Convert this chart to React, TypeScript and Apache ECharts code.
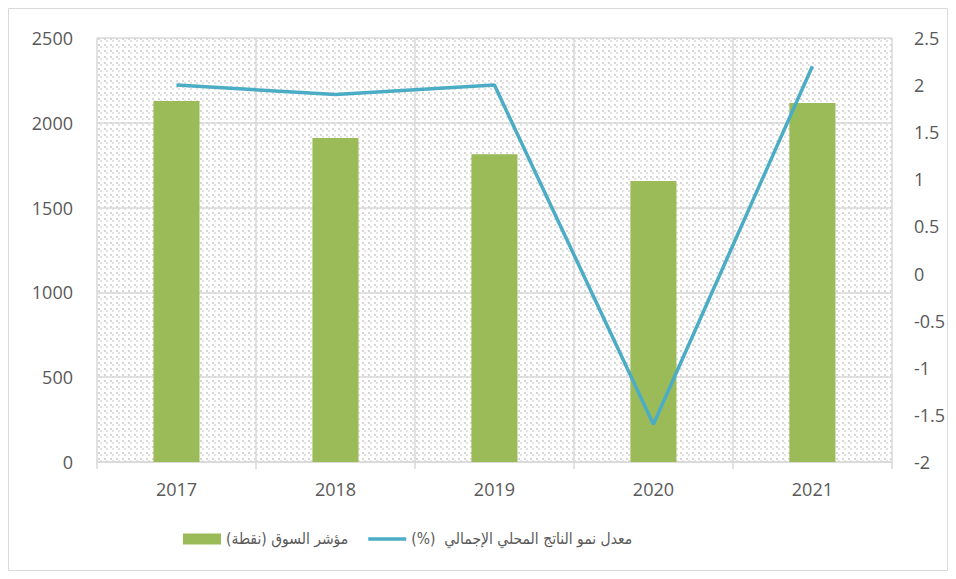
import React, { useEffect, useRef } from "react";
import * as echarts from "echarts";

const categories = ["2017", "2018", "2019", "2020", "2021"];
const marketIndex = [2128, 1910, 1815, 1657, 2117];
const gdpGrowth = [2.0, 1.9, 2.0, -1.6, 2.2];
const barName = "مؤشر السوق (نقطة)";
const lineName = "معدل نمو الناتج المحلي الإجمالي  (%)\u200F";

const patternSvg =
  '<svg xmlns="http://www.w3.org/2000/svg" width="6" height="6" shape-rendering="crispEdges">' +
  '<rect width="6" height="6" fill="#ffffff"/>' +
  '<rect x="0" y="0" width="2" height="2" fill="#d6d6d6"/>' +
  '<rect x="2" y="2" width="2" height="2" fill="#e2e2e2"/>' +
  "</svg>";
const patternUrl = "data:image/svg+xml;charset=utf-8," + encodeURIComponent(patternSvg);

export default function App() {
  const ref = useRef<HTMLDivElement>(null);
  useEffect(() => {
    if (!ref.current) return;
    const chart = echarts.init(ref.current, undefined, { renderer: "svg" });
    const img = new Image();
    img.src = patternUrl;
    const font = "'Open Sans', sans-serif";
    chart.setOption({
      animation: false,
      backgroundColor: "#ffffff",
      graphic: [
        {
          type: "rect",
          shape: { x: 0.5, y: 0.5, width: 939, height: 562 },
          style: { fill: "none", stroke: "#d9d9d9", lineWidth: 1 },
          z: -10,
          silent: true,
        },
      ],
      grid: {
        left: 89,
        top: 30,
        right: 56,
        bottom: 109,
        show: true,
        borderWidth: 0,
        backgroundColor: { image: img, repeat: "repeat" },
      },
      legend: {
        left: 170,
        top: 518,
        itemWidth: 38,
        itemHeight: 11,
        itemGap: 20,
        textStyle: { fontSize: 15.5, color: "#595959", fontFamily: "'DejaVu Sans Condensed', 'DejaVu Sans', sans-serif" },
        data: [
          { name: barName, icon: "rect" },
          { name: lineName, icon: "path://M0,0 L40,0 L40,3.5 L0,3.5 Z", itemStyle: { color: "#4BACC6" } },
        ],
      },
      xAxis: {
        type: "category",
        data: categories,
        boundaryGap: true,
        axisLine: { show: true, lineStyle: { color: "#d9d9d9", width: 1.5 } },
        axisTick: { show: true, length: 7, lineStyle: { color: "#d9d9d9", width: 1.5 } },
        splitLine: { show: true, lineStyle: { color: "#d9d9d9", width: 1.5 } },
        axisLabel: { fontSize: 18, color: "#595959", fontFamily: font, margin: 18 },
      },
      yAxis: [
        {
          type: "value",
          min: 0,
          max: 2500,
          interval: 500,
          axisLine: { show: false },
          axisTick: { show: false },
          splitLine: { show: true, lineStyle: { color: "#d9d9d9", width: 1.5 } },
          axisLabel: { fontSize: 18, color: "#595959", fontFamily: font, margin: 24, formatter: (v: number) => String(v) },
        },
        {
          type: "value",
          min: -2,
          max: 2.5,
          interval: 0.5,
          axisLine: { show: false },
          axisTick: { show: false },
          splitLine: { show: false },
          axisLabel: { fontSize: 18, color: "#595959", fontFamily: font, margin: 22, formatter: (v: number) => String(v) },
        },
      ],
      series: [
        {
          name: barName,
          type: "bar",
          data: marketIndex,
          barWidth: "29%",
          itemStyle: { color: "#9BBB59" },
          yAxisIndex: 0,
        },
        {
          name: lineName,
          type: "line",
          data: gdpGrowth,
          yAxisIndex: 1,
          showSymbol: false,
          symbol: "none",
          lineStyle: { color: "#4BACC6", width: 3.5 },
          itemStyle: { color: "#4BACC6" },
        },
      ],
    });
    return () => chart.dispose();
  }, []);
  return <div ref={ref} style={{ width: 940, height: 563 }} />;
}
